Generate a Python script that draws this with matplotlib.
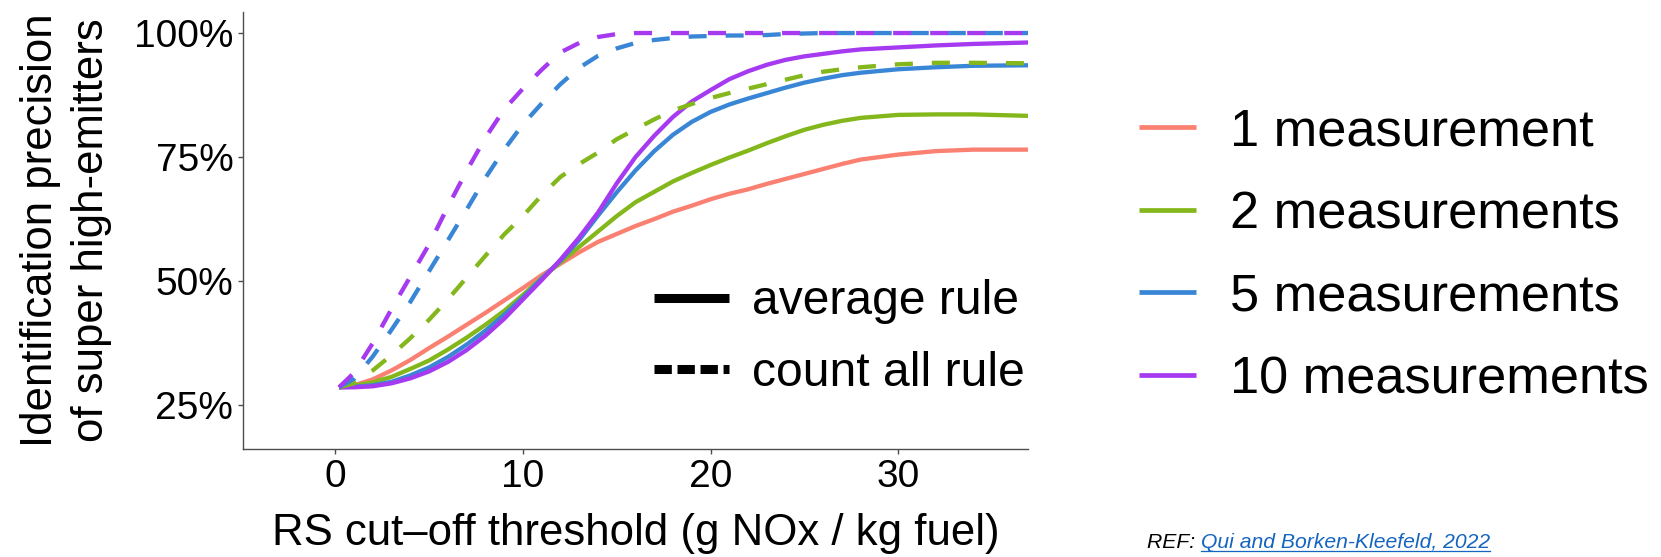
import matplotlib
matplotlib.use('Agg')
import matplotlib.pyplot as plt
from matplotlib.lines import Line2D

plt.rcParams['font.family'] = ['Liberation Sans', 'DejaVu Sans']

# ---------------- data ----------------
x = [0.2, 1, 2, 3, 4, 5, 6, 7, 8, 9, 10, 11, 12, 13, 14, 15, 16, 17, 18, 19,
     20, 21, 22, 23, 24, 25, 26, 27, 28, 30, 32, 34, 37]

avg_1 = [28.6, 29.0, 30.2, 32.0, 34.1, 36.5, 38.8, 41.2, 43.6, 46.1, 48.6, 51.2,
         53.5, 55.8, 57.9, 59.5, 61.1, 62.5, 64.0, 65.2, 66.5, 67.6, 68.5, 69.6,
         70.6, 71.6, 72.6, 73.6, 74.5, 75.5, 76.2, 76.5, 76.5]
avg_2 = [28.6, 28.9, 29.6, 30.7, 32.3, 34.0, 36.2, 38.6, 41.2, 44.0, 47.2, 50.6,
         53.8, 56.9, 60.0, 63.1, 65.9, 68.0, 70.1, 71.8, 73.4, 74.9, 76.3, 77.8,
         79.2, 80.5, 81.5, 82.3, 82.9, 83.5, 83.6, 83.6, 83.3]
avg_5 = [28.6, 28.7, 29.0, 29.7, 31.0, 32.6, 34.7, 37.2, 40.0, 43.2, 46.7, 50.5,
         54.1, 58.3, 63.2, 67.9, 72.3, 76.2, 79.5, 82.1, 84.1, 85.6, 86.8, 87.9,
         89.0, 90.0, 90.8, 91.5, 92.0, 92.7, 93.1, 93.4, 93.5]
avg_10 = [28.6, 28.6, 28.8, 29.4, 30.4, 31.8, 33.7, 36.1, 39.0, 42.4, 46.3, 50.2,
          54.3, 58.8, 63.8, 69.7, 75.0, 79.3, 83.1, 86.2, 88.5, 90.7, 92.3, 93.6,
          94.6, 95.3, 95.8, 96.3, 96.7, 97.1, 97.5, 97.8, 98.1]

cnt_2 = [28.6, 29.4, 32.0, 35.1, 38.5, 42.2, 46.3, 50.7, 55.1, 59.4, 63.1, 67.3,
         71.0, 73.6, 75.9, 78.6, 80.6, 82.6, 84.4, 85.7, 86.9, 87.9, 88.8, 89.7,
         90.6, 91.5, 92.2, 92.7, 93.1, 93.7, 94.0, 94.0, 93.9]
cnt_5 = [28.6, 30.3, 34.8, 40.2, 45.8, 52.0, 58.2, 64.4, 70.8, 76.5, 81.6, 85.8,
         89.7, 93.0, 95.4, 96.9, 98.0, 98.6, 99.0, 99.3, 99.4, 99.5, 99.5, 99.6,
         99.8, 99.9, 100.0, 100.0, 100.0, 100.0, 100.0, 100.0, 100.0]
cnt_10 = [28.6, 31.5, 37.5, 44.4, 50.9, 57.4, 65.0, 72.2, 78.9, 84.6, 88.8, 92.6,
          96.1, 98.0, 99.2, 99.8, 100.0, 100.0, 100.0, 100.0, 100.0, 100.0, 100.0,
          100.0, 100.0, 100.0, 100.0, 100.0, 100.0, 100.0, 100.0, 100.0, 100.0]

series_labels = ['1 measurement', '2 measurements', '5 measurements', '10 measurements']
series_colors = ['#FA8072', '#84B71B', '#3A86D6', '#A63AF0']
avg_series = [avg_1, avg_2, avg_5, avg_10]
cnt_series = [None, cnt_2, cnt_5, cnt_10]   # no count-all curve visible for 1 measurement

rule_labels = ['average rule', 'count all rule']

x_ticks = [0, 10, 20, 30]
y_ticks = [25, 50, 75, 100]
y_tick_labels = ['25%', '50%', '75%', '100%']

xlabel = 'RS cut\u2013off threshold (g NOx / kg fuel)'
ylabel = 'Identification precision\nof super high-emitters'
ref_prefix = 'REF: '
ref_link = 'Qui and Borken-Kleefeld, 2022'

# ---------------- figure ----------------
W, H = 1661, 557
fig = plt.figure(figsize=(W / 100, H / 100), dpi=100)
ax = fig.add_axes([243.3 / W, 1 - 449.3 / H, (1027.7 - 243.3) / W, (449.3 - 11.7) / H])

LW = 3.1
for ys, c in zip(avg_series, series_colors):
    ax.plot(x, ys, color=c, lw=LW, solid_capstyle='butt', solid_joinstyle='round', zorder=2)
for ys, c in zip(cnt_series, series_colors):
    if ys is None:
        continue
    ax.plot(x, ys, color=c, lw=LW, linestyle=(0, (4.2, 4.4)), dash_capstyle='butt',
            dash_joinstyle='round', zorder=3)

ax.set_xlim(-4.9, 36.9)
ax.set_ylim(16.1, 104.3)
ax.set_xticks(x_ticks)
ax.set_yticks(y_ticks)
ax.set_yticklabels(y_tick_labels)

for s in ['top', 'right']:
    ax.spines[s].set_visible(False)
for s in ['left', 'bottom']:
    ax.spines[s].set_color('#4D4D4D')
    ax.spines[s].set_linewidth(1.0)
ax.tick_params(axis='both', colors='#4D4D4D', length=3.6, width=1.0, pad=3.6,
               labelsize=28, labelcolor='black')

fig.text(635.5 / W, 1 - 545.3 / H, xlabel, ha='center', va='baseline', fontsize=31.5)
fig.text(66 / W, 1 - 230.5 / H, ylabel, ha='center', va='center', rotation=90,
         fontsize=31.5, linespacing=1.3, multialignment='center')

# colour legend (outside, right)
col_handles = [Line2D([], [], color=c, lw=3.4, solid_capstyle='butt') for c in series_colors]
leg1 = fig.legend(col_handles, series_labels, loc='upper left',
                  bbox_to_anchor=(1139 / W, 1 - 107.5 / H), frameon=False,
                  fontsize=37.7, handlelength=1.09, handletextpad=0.65,
                  labelspacing=0.64, borderpad=0, borderaxespad=0)

# linetype legend (inside axes)
lt_handles = [Line2D([], [], color='black', lw=6.5, solid_capstyle='butt'),
              Line2D([], [], color='black', lw=6.5, linestyle=(0, (1.92, 0.63)),
                     dash_capstyle='butt')]
leg2 = fig.legend(lt_handles, rule_labels, loc='upper left',
                  bbox_to_anchor=(654 / W, 1 - 279.5 / H), frameon=False,
                  fontsize=34.6, handlelength=1.56, handletextpad=0.48,
                  labelspacing=0.55, borderpad=0, borderaxespad=0)

# reference note
t1 = fig.text(1146.7 / W, 1 - 547.7 / H, ref_prefix, ha='left', va='baseline',
              fontsize=15.2, style='italic', color='black')
fig.canvas.draw()
r = fig.canvas.get_renderer()
bb = t1.get_window_extent(r)
link_color = '#1565C0'
t2 = fig.text(bb.x1 / W, 1 - 547.7 / H, ref_link, ha='left', va='baseline',
              fontsize=15.2, style='italic', color=link_color)
fig.canvas.draw()
bb2 = t2.get_window_extent(r)
uy = (H - 550.8) / H
fig.add_artist(Line2D([bb2.x0 / W, bb2.x1 / W], [uy, uy], color=link_color, lw=0.9,
                      transform=fig.transFigure))

fig.savefig('out.png', dpi=100)
